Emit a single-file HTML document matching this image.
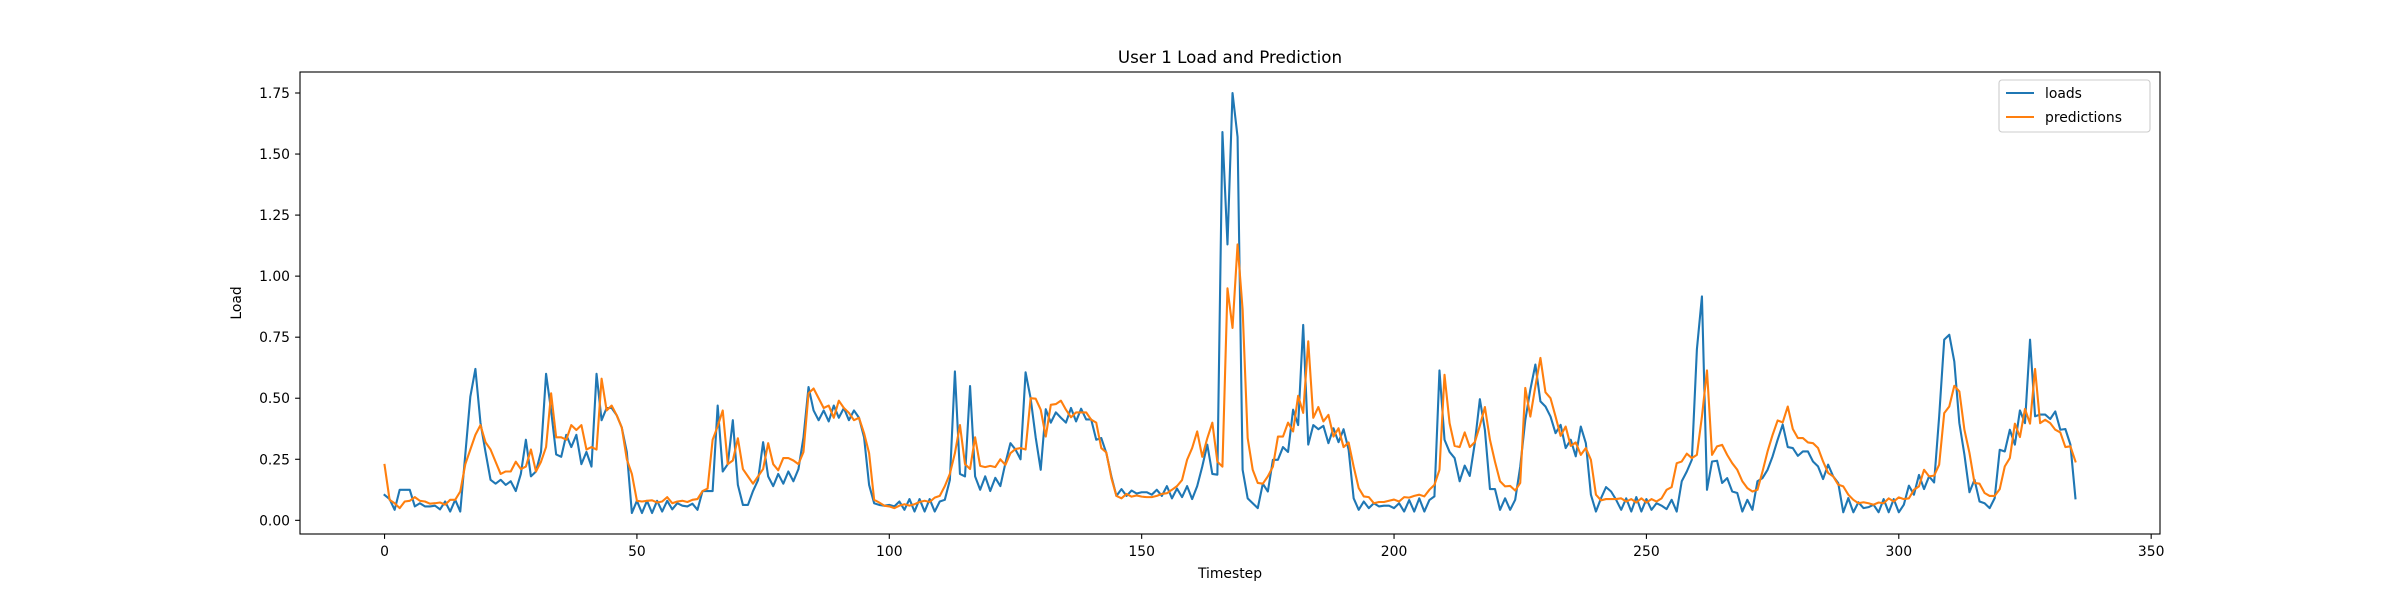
<!DOCTYPE html>
<html><head><meta charset="utf-8"><style>
html,body{margin:0;padding:0;background:#fff;}
svg{display:block;font-family:"DejaVu Sans","Liberation Sans",sans-serif;}
</style></head><body>
<svg id="chart" width="2400" height="600" viewBox="0 0 2400 600" xmlns="http://www.w3.org/2000/svg">
<rect x="0" y="0" width="2400" height="600" fill="#fff"/>
<text x="1230" y="63" text-anchor="middle" font-size="16.7" fill="#000">User 1 Load and Prediction</text>
<g id="xticks"></g>
<g id="yticks"></g>
<g id="series"></g>
<rect x="300" y="72" width="1860" height="462" fill="none" stroke="#000" stroke-width="1.1"/>
<text x="1230" y="578" text-anchor="middle" font-size="13.9" fill="#000">Timestep</text>
<text x="0" y="0" transform="translate(241,303) rotate(-90)" text-anchor="middle" font-size="13.9" fill="#000">Load</text>
<g>
<rect x="1999" y="80" width="151" height="52" rx="3" fill="#fff" fill-opacity="0.8" stroke="#ccc" stroke-width="1.1"/>
<g>
<line x1="2006" y1="93" x2="2034" y2="93" stroke="#1f77b4" stroke-width="2.1"/>
<text x="2045" y="98" font-size="13.9" fill="#000">loads</text>
</g>
<g>
<line x1="2006" y1="117" x2="2034" y2="117" stroke="#ff7f0e" stroke-width="2.1"/>
<text x="2045" y="122" font-size="13.9" fill="#000">predictions</text>
</g>
</g>
</svg>
<script>
const xTickValues = [0, 50, 100, 150, 200, 250, 300, 350];
const yTickValues = [0, 0.25, 0.5, 0.75, 1.0, 1.25, 1.5, 1.75];
const yTickLabels = ["0.00","0.25","0.50","0.75","1.00","1.25","1.50","1.75"];
const loads = [
.104,.087,.043,.125,.125,.125,.057,.07,.057,.057,.06,.045,.077,.036,.084,.036,.27,.507,.62,.40,
.28,.166,.15,.166,.145,.16,.12,.19,.33,.18,.2,.28,.60,.45,.27,.26,.35,.30,.35,.23,
.28,.22,.60,.41,.46,.46,.43,.38,.28,.03,.08,.03,.08,.03,.08,.036,.08,
.045,.07,.06,.057,.068,.043,.12,.12,.12,.47,.20,.23,.41,.145,.063,.063,.12,.165,.32,.18,.14,.19,.15,.2,.16,.21,.34,.546,.45,.41,.45,.405,.47,.42,.46,.41,.45,.42,.34,.145,.07,.063,.06,.063,.057,.077,.043,.087,.036,.087,.036,.087,.036,.077,.084,
.165,.61,.19,.18,.55,.18,.125,.18,.12,.174,.14,.234,.316,.29,.25,.606,.5,.34,.207,.455,.4,.442,.42,.4,.46,.405,.457,.413,.413,.33,.337,.275,.18,.1,.128,.1,.122,.11,.115,.115,.105,.125,.1,.14,.09,.13,.095,.14,.087,.14,.22,.31,.19,.187,
1.59,1.13,1.75,1.57,.207,.09,.07,.05,.15,.118,.248,.248,.3,.28,.453,.39,.8,.31,.39,.373,.387,.316,.377,.32,.373,.289,.09,.043,.077,.05,.07,.057,.06,.06,.05,.07,.036,.083,.036,.09,.036,.083,.098,.614,.33,.28,.255,.16,.224,.182,.316,.496,.37,.128,.128,
.043,.09,.043,.084,.22,.41,.535,.638,.487,.466,.425,.357,.391,.296,.33,.262,.384,.316,.105,.036,.09,.136,.118,.084,.043,.09,.036,.095,.036,.087,.043,.07,.06,.046,.084,.036,.16,.2,.248,.7,.917,.125,.241,.244,.153,.173,.118,.112,.036,.084,.043,.16,.173,.207,.262,
.33,.392,.3,.296,.264,.282,.282,.241,.221,.169,.228,.18,.153,.033,.091,.033,.074,.05,.054,.064,.033,.087,.033,.087,.033,.064,.142,.105,.186,.128,.18,.155,.426,.74,.76,.65,.398,.269,.115,.166,.077,.07,.05,.091,.289,.282,.371,.31,.45,.398,.74,.426,.433,.433,.415,.446,.371,.374,.31,.09
];
const predictions = [
.227,.084,.07,.05,.077,.08,.095,.08,.077,.068,.07,.073,.064,.084,.084,.118,.23,.29,.35,.39,
.32,.29,.24,.19,.2,.2,.24,.21,.22,.29,.2,.24,.3,.52,.34,.34,.33,.39,.37,.39,
.29,.3,.29,.58,.45,.47,.43,.38,.25,.19,.08,.077,.08,.082,.073,.077,.095,
.07,.077,.08,.075,.084,.087,.12,.13,.33,.385,.45,.23,.245,.336,.21,.18,.15,.18,.21,.316,.23,.205,.255,.255,.245,.23,.28,.52,.54,.5,.46,.47,.42,.49,.46,.44,.41,.42,.357,.275,.084,.073,.06,.057,.05,.06,.066,.06,.066,.075,.08,.075,.093,.1,.14,
.19,.275,.39,.23,.21,.34,.223,.218,.223,.218,.25,.227,.275,.292,.296,.29,.5,.498,.453,.343,.473,.476,.49,.453,.422,.442,.442,.442,.412,.4,.296,.278,.173,.1,.09,.108,.097,.102,.097,.095,.095,.1,.108,.111,.125,.14,.165,.248,.296,.364,.26,.336,.4,.24,
.22,.95,.788,1.13,.863,.337,.207,.153,.15,.18,.22,.343,.343,.4,.364,.51,.44,.733,.42,.464,.405,.432,.343,.377,.3,.319,.22,.132,.098,.095,.07,.075,.075,.08,.085,.077,.095,.093,.1,.105,.098,.125,.145,.207,.596,.398,.305,.3,.36,.3,.32,.387,.464,.33,.24,
.16,.139,.141,.122,.153,.542,.425,.549,.665,.524,.5,.425,.346,.384,.305,.319,.268,.296,.248,.105,.082,.087,.087,.087,.09,.077,.087,.073,.09,.073,.087,.077,.09,.125,.136,.234,.241,.273,.255,.268,.425,.614,.268,.303,.309,.268,.234,.207,.16,.132,.118,.125,.2,.282,.35,
.409,.401,.466,.374,.337,.337,.319,.316,.296,.241,.194,.18,.146,.139,.105,.084,.07,.074,.07,.064,.073,.07,.09,.077,.094,.087,.09,.125,.139,.207,.18,.183,.228,.439,.466,.551,.528,.371,.276,.153,.15,.112,.1,.1,.128,.221,.255,.396,.341,.456,.396,.62,.398,.412,.398,.371,.36,.3,.303,.241
];
</script>
<script>
(function(){
const NS = "http://www.w3.org/2000/svg";
const L = 300, R = 2160, T = 72, B = 534;
const n = Math.max(loads.length, predictions.length);
const xMinD = 0, xMaxD = n - 1;
const xPad = (xMaxD - xMinD) * 0.05;
const x0 = xMinD - xPad, x1 = xMaxD + xPad;
const all = loads.concat(predictions);
const yMinD = Math.min.apply(null, all), yMaxD = Math.max.apply(null, all);
const yPad = (yMaxD - yMinD) * 0.05;
const y0 = yMinD - yPad, y1 = yMaxD + yPad;
function xScale(v){ return L + (v - x0) / (x1 - x0) * (R - L); }
function yScale(v){ return B - (v - y0) / (y1 - y0) * (B - T); }

const xg = document.getElementById('xticks');
xTickValues.forEach(function(v){
  const px = xScale(v);
  if (px < L - 0.5 || px > R + 0.5) return;
  const ln = document.createElementNS(NS, 'line');
  ln.setAttribute('x1', px); ln.setAttribute('x2', px);
  ln.setAttribute('y1', B); ln.setAttribute('y2', B + 4.9);
  ln.setAttribute('stroke', '#000'); ln.setAttribute('stroke-width', '1.1');
  
  
  xg.appendChild(ln);
  const t = document.createElementNS(NS, 'text');
  t.setAttribute('x', px); t.setAttribute('y', B + 22);
  t.setAttribute('text-anchor', 'middle'); t.setAttribute('font-size', '13.9');
  t.textContent = String(v);
  
  
  xg.appendChild(t);
});

const yg = document.getElementById('yticks');
yTickValues.forEach(function(v, i){
  const py = yScale(v);
  if (py < T - 0.5 || py > B + 0.5) return;
  const ln = document.createElementNS(NS, 'line');
  ln.setAttribute('x1', L - 4.9); ln.setAttribute('x2', L);
  ln.setAttribute('y1', py); ln.setAttribute('y2', py);
  ln.setAttribute('stroke', '#000'); ln.setAttribute('stroke-width', '1.1');
  
  
  yg.appendChild(ln);
  const t = document.createElementNS(NS, 'text');
  t.setAttribute('x', L - 10); t.setAttribute('y', py + 5);
  t.setAttribute('text-anchor', 'end'); t.setAttribute('font-size', '13.9');
  t.textContent = yTickLabels[i];
  
  
  yg.appendChild(t);
});

const sg = document.getElementById('series');
function drawLine(arr, color, name){
  const pts = arr.map(function(v, i){ return xScale(i).toFixed(2) + ',' + yScale(v).toFixed(2); }).join(' ');
  const pl = document.createElementNS(NS, 'polyline');
  pl.setAttribute('points', pts);
  pl.setAttribute('fill', 'none');
  pl.setAttribute('stroke', color);
  pl.setAttribute('stroke-width', '2.1');
  pl.setAttribute('stroke-linejoin', 'round');
  pl.setAttribute('stroke-linecap', 'square');
  
  
  sg.appendChild(pl);
}
drawLine(loads, '#1f77b4', 'loads-line');
drawLine(predictions, '#ff7f0e', 'predictions-line');
})();
</script>
</body></html>
